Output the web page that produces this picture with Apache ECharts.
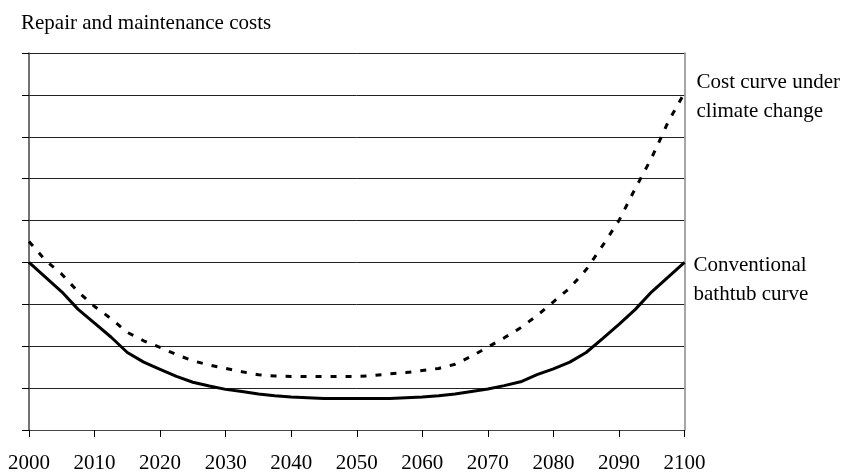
<!DOCTYPE html>
<html>
<head>
<meta charset="utf-8">
<script src="https://cdn.jsdelivr.net/npm/echarts@6/dist/echarts.min.js"></script>
<style>html,body{margin:0;padding:0;background:#fff}#c{width:842px;height:474px}</style>
</head>
<body>
<div id="c"></div>
<script>
const titleText = 'Repair and maintenance costs';
const years = [2000,2002.5,2005,2007.5,2010,2012.5,2015,2017.5,2020,2022.5,2025,2027.5,2030,2032.5,2035,2037.5,2040,2042.5,2045,2047.5,2050,2052.5,2055,2057.5,2060,2062.5,2065,2067.5,2070,2072.5,2075,2077.5,2080,2082.5,2085,2087.5,2090,2092.5,2095,2097.5,2100];
const conventional = [4.0,3.65,3.30,2.88,2.55,2.22,1.85,1.62,1.45,1.28,1.14,1.05,0.97,0.92,0.86,0.82,0.79,0.77,0.75,0.75,0.75,0.75,0.75,0.77,0.79,0.82,0.86,0.92,0.98,1.06,1.15,1.32,1.46,1.62,1.85,2.18,2.52,2.88,3.30,3.65,4.0];
const climate = [4.5,4.05,3.72,3.30,2.95,2.66,2.33,2.13,1.97,1.80,1.65,1.55,1.47,1.39,1.32,1.29,1.28,1.28,1.28,1.28,1.28,1.30,1.34,1.37,1.42,1.47,1.57,1.76,1.98,2.20,2.44,2.73,3.06,3.39,3.83,4.40,5.00,5.77,6.50,7.35,8.05];
const conventionalLabel = 'Conventional\nbathtub curve';
const climateLabel = 'Cost curve under\nclimate change';
const xTicks = [2000,2010,2020,2030,2040,2050,2060,2070,2080,2090,2100];

const font = 'Liberation Serif';
const chart = echarts.init(document.getElementById('c'), null, {renderer: 'canvas'});
chart.setOption({
  animation: false,
  title: {
    text: titleText, left: 16, top: 8,
    textStyle: {fontFamily: font, fontSize: 21, fontWeight: 'normal', color: '#000'}
  },
  grid: {left: 29, right: 157.5, top: 53, bottom: 41},
  xAxis: {
    type: 'value', min: xTicks[0], max: xTicks[xTicks.length-1], interval: 10,
    axisLine: {lineStyle: {color: '#444', width: 1}},
    axisTick: {show: true, length: 7, lineStyle: {color: '#000'}},
    axisLabel: {fontFamily: font, fontSize: 21, color: '#000', margin: 23, formatter: v => String(v)},
    splitLine: {show: false}
  },
  yAxis: [{
    type: 'value', min: 0, max: 9, interval: 1,
    axisLine: {show: true, lineStyle: {color: '#444', width: 1.5}},
    axisTick: {show: true, length: 7, lineStyle: {color: '#000'}},
    axisLabel: {show: false},
    splitLine: {show: true, lineStyle: {color: '#222', width: 1}}
  }, {
    type: 'value', min: 0, max: 9, interval: 1, position: 'right',
    axisLine: {show: true, lineStyle: {color: '#888', width: 1.5}},
    axisTick: {show: false}, axisLabel: {show: false}, splitLine: {show: false}
  }],
  series: [{
    type: 'line', name: 'conventional', showSymbol: false, symbol: 'none',
    data: years.map((y,i) => [y, conventional[i]]),
    lineStyle: {color: '#000', width: 3},
    endLabel: {show: true, formatter: conventionalLabel, fontFamily: font, fontSize: 21, color: '#000', lineHeight: 29, offset: [1, 18]}
  }, {
    type: 'line', name: 'climate', showSymbol: false, symbol: 'none',
    data: years.map((y,i) => [y, climate[i]]),
    lineStyle: {color: '#000', width: 3, type: [6, 9]},
    endLabel: {show: true, formatter: climateLabel, fontFamily: font, fontSize: 21, color: '#000', lineHeight: 28.5, offset: [4, 4]}
  }]
});
</script>
</body>
</html>
